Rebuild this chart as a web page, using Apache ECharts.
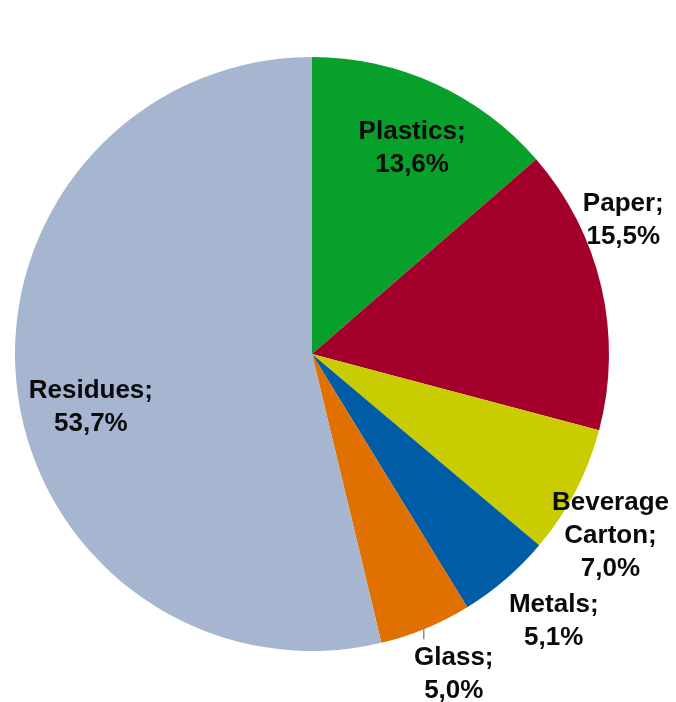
<!DOCTYPE html>
<html>
<head>
<meta charset="utf-8">
<script src="https://cdn.jsdelivr.net/npm/echarts@6/dist/echarts.min.js"></script>
<style>
  html, body { margin: 0; padding: 0; background: #fff; }
  #chart { width: 676px; height: 702px; }
</style>
</head>
<body>
<div id="chart"></div>
<script>
// Waste composition (share of total, %)
const categories = ['Plastics', 'Paper', 'Beverage Carton', 'Metals', 'Glass', 'Residues'];
const labelNames = ['Plastics;', 'Paper;', 'Beverage\nCarton;', 'Metals;', 'Glass;', 'Residues;'];
const shares = [13.6, 15.5, 7.0, 5.1, 5.0, 53.7];
const sliceColors = ['#07a02a', '#a2002a', '#c8cc00', '#005ca4', '#e07000', '#a6b6d0'];

// Pie geometry (pixels)
const CX = 312, CY = 354, R = 297;

// Label placement: radial factor along the slice's mid-angle, then a nudge (px)
const labelRadial = [0.78, 1.0, 1.0, 1.0, 1.0, 0.76];
const labelNudge = [[4, 5], [22, -67], [35, 45], [48, 42], [28, 46], [3, 27]];
const leaderLine = [false, false, false, false, true, false];
const leaderLength = 11;

const total = shares.reduce((a, b) => a + b, 0);
function midAngle(i) {
  let before = 0;
  for (let k = 0; k < i; k++) before += shares[k];
  return (before + shares[i] / 2) / total * 2 * Math.PI; // clockwise from top
}

const fmt = v => v.toFixed(1).replace('.', ',') + '%';

const chart = echarts.init(document.getElementById('chart'), null, { renderer: 'canvas' });
chart.setOption({
  backgroundColor: '#ffffff',
  animation: false,
  series: [{
    type: 'pie',
    center: [CX, CY],
    radius: [0, R],
    startAngle: 90,
    clockwise: true,
    avoidLabelOverlap: false,
    itemStyle: { borderWidth: 0 },
    emphasis: { disabled: true },
    label: {
      show: true,
      position: 'outside',
      formatter: p => labelNames[p.dataIndex] + '\n' + fmt(p.value),
      fontFamily: 'Liberation Sans, Arial, sans-serif',
      fontWeight: 'bold',
      fontSize: 26,
      lineHeight: 33,
      color: '#0a0a0a',
      align: 'center'
    },
    labelLine: { show: false, lineStyle: { color: '#8c8c8c', width: 1.5 } },
    data: categories.map((c, i) => ({
      name: c,
      value: shares[i],
      itemStyle: { color: sliceColors[i] },
      labelLine: { show: leaderLine[i], length: leaderLength, length2: 0 }
    })),
    labelLayout: function (params) {
      const i = params.dataIndex;
      const a = midAngle(i);
      const s = Math.sin(a), c = Math.cos(a);
      const rr = R * labelRadial[i];
      const out = {
        x: CX + rr * s + labelNudge[i][0],
        y: CY - rr * c + labelNudge[i][1],
        align: 'center',
        verticalAlign: 'middle'
      };
      if (leaderLine[i]) {
        const ex = CX + R * s - 2, ey = CY - R * c;
        out.labelLinePoints = [[ex, ey], [ex, ey + leaderLength], [ex, ey + leaderLength]];
      }
      return out;
    }
  }]
});
</script>
</body>
</html>
